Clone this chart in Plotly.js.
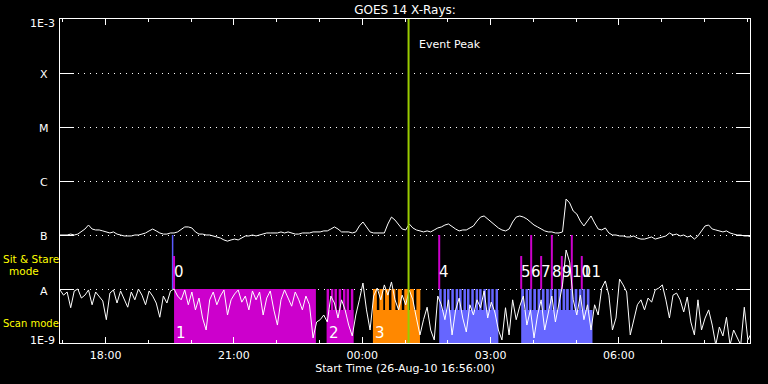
<!DOCTYPE html>
<html><head><meta charset="utf-8">
<script src="https://cdn.plot.ly/plotly-3.0.1.min.js"></script>
<style>html,body{margin:0;padding:0;background:#000;}#chart{width:768px;height:384px;}</style>
</head><body><div id="chart"></div>
<script>
// ---- time frame ----
const startTime = "2010-08-26 16:56";
const endTime = "2010-08-27 09:04";
const cadenceMin = 5;

// ---- GOES 14 long channel (1-8 A), W/m^2, every 5 min from start ----
const longFlux = [
1.00e-7,1.00e-7,1.00e-7,1.04e-7,1.00e-7,1.04e-7,1.14e-7,1.29e-7,1.53e-7,1.29e-7,
1.24e-7,1.24e-7,1.19e-7,1.14e-7,1.09e-7,1.14e-7,1.04e-7,1.00e-7,9.6e-8,9.6e-8,
9.6e-8,1.00e-7,1.00e-7,1.04e-7,1.09e-7,1.19e-7,1.29e-7,1.19e-7,1.09e-7,1.04e-7,
1.04e-7,1.09e-7,1.09e-7,1.14e-7,1.29e-7,1.41e-7,1.41e-7,1.35e-7,1.14e-7,1.04e-7,
1.04e-7,1.00e-7,1.00e-7,9.6e-8,9.2e-8,8.8e-8,8.1e-8,7.7e-8,8.1e-8,8.4e-8,
8.1e-8,8.8e-8,9.6e-8,9.6e-8,1.00e-7,9.6e-8,1.00e-7,1.04e-7,1.09e-7,1.09e-7,
1.09e-7,1.09e-7,1.14e-7,1.09e-7,1.14e-7,1.09e-7,1.04e-7,1.04e-7,1.09e-7,1.09e-7,
1.09e-7,1.14e-7,1.14e-7,1.14e-7,1.19e-7,1.19e-7,1.29e-7,1.41e-7,1.29e-7,1.14e-7,
1.14e-7,1.14e-7,1.09e-7,1.14e-7,1.47e-7,1.74e-7,1.41e-7,1.14e-7,1.09e-7,1.09e-7,
1.09e-7,1.09e-7,1.60e-7,2.15e-7,1.89e-7,1.53e-7,1.29e-7,1.24e-7,1.60e-7,1.35e-7,
1.24e-7,1.19e-7,1.14e-7,1.19e-7,1.14e-7,1.24e-7,1.35e-7,1.41e-7,1.53e-7,1.60e-7,
1.41e-7,1.29e-7,1.19e-7,1.24e-7,1.24e-7,1.35e-7,1.47e-7,1.81e-7,2.15e-7,2.25e-7,
1.98e-7,1.74e-7,1.53e-7,1.35e-7,1.24e-7,1.19e-7,1.29e-7,1.74e-7,2.15e-7,2.25e-7,
2.15e-7,1.98e-7,1.74e-7,1.53e-7,1.41e-7,1.29e-7,1.19e-7,1.14e-7,1.14e-7,1.09e-7,
1.09e-7,1.14e-7,4.64e-7,3.92e-7,2.78e-7,2.45e-7,1.81e-7,1.47e-7,1.81e-7,2.25e-7,
1.67e-7,1.29e-7,1.24e-7,1.35e-7,1.09e-7,1.00e-7,1.00e-7,9.6e-8,9.6e-8,9.2e-8,
9.2e-8,9.6e-8,8.8e-8,8.4e-8,8.4e-8,8.8e-8,9.2e-8,8.4e-8,8.8e-8,9.2e-8,
9.6e-8,1.09e-7,1.00e-7,1.04e-7,9.6e-8,1.00e-7,9.2e-8,9.6e-8,8.4e-8,9.6e-8,
1.19e-7,1.47e-7,1.53e-7,1.29e-7,1.24e-7,1.19e-7,1.14e-7,1.19e-7,1.09e-7,1.04e-7,
1.00e-7,1.00e-7,9.6e-8,9.6e-8,9.2e-8];

// ---- GOES 14 short channel (0.5-4 A), W/m^2, every 5 min from start ----
const shortFlux = [
9.6e-9,7.7e-9,8.8e-9,4.5e-9,9.2e-9,1.0e-8,6.8e-9,7.7e-9,9.6e-9,5.1e-9,
8.8e-9,7.4e-9,6.0e-9,2.7e-9,8.4e-9,9.6e-9,5.5e-9,9.2e-9,6.3e-9,4.6e-9,
8.8e-9,6.3e-9,1.0e-8,7.7e-9,5.1e-9,9.2e-9,7.4e-9,5.5e-9,3.0e-9,7.4e-9,
5.5e-9,9.2e-9,1.0e-8,7.4e-9,6.3e-9,9.6e-9,5.1e-9,8.8e-9,4.1e-9,6.8e-9,
2.9e-9,1.74e-9,6.3e-9,8.8e-9,5.1e-9,7.4e-9,9.6e-9,3.3e-9,6.3e-9,8.1e-9,
9.6e-9,5.7e-9,7.4e-9,4.1e-9,9.2e-9,6.3e-9,8.8e-9,3.3e-9,6.8e-9,9.2e-9,
4.1e-9,2.15e-9,6.3e-9,9.6e-9,6.8e-9,4.8e-9,8.8e-9,6.3e-9,4.1e-9,7.4e-9,
5.1e-9,1.24e-9,2.45e-9,2.7e-9,3.3e-9,2.45e-9,7.4e-9,5.5e-9,2.9e-9,6.3e-9,
4.1e-9,2.15e-9,1.35e-9,3.3e-9,6.3e-9,1.29e-8,4.1e-9,1.74e-9,7.4e-9,1.04e-8,
6.3e-9,1.19e-8,7.7e-9,1.35e-8,6.3e-9,4.1e-9,7.7e-9,5.1e-9,9.6e-9,6.3e-9,
2.9e-9,1.41e-9,2.7e-9,4.6e-9,1.74e-9,1.14e-9,7.4e-9,5.1e-9,2.7e-9,6.3e-9,
1.41e-9,4.1e-9,6.8e-9,2.9e-9,1.6e-9,5.1e-9,3.3e-9,6.3e-9,4.5e-9,9.2e-9,
2.9e-9,5.7e-9,3.75e-9,1.74e-9,1.14e-9,4.5e-9,1.41e-9,6.3e-9,2.7e-9,4.8e-9,
7.4e-9,2.15e-9,4.1e-9,1.24e-9,3.3e-9,6.3e-9,1.74e-9,3.75e-9,7.4e-9,2.45e-9,
5.1e-9,1.19e-8,5.27e-8,3.16e-8,6.3e-9,3.3e-9,7.7e-9,2.7e-9,5.1e-9,1.74e-9,
5.1e-9,3.3e-9,1.04e-8,1.41e-8,7.7e-9,1.74e-9,2.9e-9,1.53e-8,1.19e-8,8.8e-9,
1.41e-9,2.7e-9,5.1e-9,6.3e-9,4.1e-9,6.8e-9,5.7e-9,9.6e-9,1.04e-8,1.19e-8,
6.3e-9,2.9e-9,7.7e-9,8.4e-9,6.3e-9,3.75e-9,7.1e-9,2.45e-9,1.41e-9,6.3e-9,
1.74e-9,2.9e-9,4.1e-9,2.15e-9,9.2e-10,1.98e-9,1.35e-9,3.0e-9,9.2e-10,1.74e-9,
1.29e-9,9.2e-10,4.6e-9,1.14e-9,1.53e-9];

// ---- flux levels used by the observation marks ----
const levelFloor = 1e-9, levelA = 1e-8, levelB = 1e-7;
const scanMid = 4.08e-9, sitShort = 4.08e-8;

// ---- event ----
const eventPeak = "01:05";
const eventLabel = "Event Peak";

// ---- sit & stare rasters ----
const sitTimes  = ["19:36","01:48","03:43","03:57","04:11","04:26","04:40","04:54","05:08"];
const sitLabels = ["0","4","5","6","7","8","9","10","11"];
const sitTops   = [sitShort, levelB, sitShort, levelB, sitShort, levelB, sitShort, levelB, sitShort];
const sitBlueTimes = ["19:34"];

// ---- scan rasters ----
const scanLabels = ["1","2","3","",""];
const scanStart  = ["19:36","23:10","00:15","01:48","03:43"];
const scanEnd    = ["22:55","23:48","01:21","03:11","05:23"];
const scanColors = ["#cc00cc","#cc00cc","#ff8800","#6666ff","#6666ff"];
const scanStepLen = [0, 3.5, 5.5, 3.5, 3.8]; // minutes
const scanSteps = [
  [],
  ["23:10","23:16","23:21","23:27","23:33","23:38","23:44"],
  ["00:15","00:24","00:32","00:41","00:50","00:59","01:07","01:16"],
  ["01:48","01:54","01:59","02:05","02:11","02:16","02:22","02:27","02:33","02:39","02:44","02:50","02:56","03:01","03:07"],
  ["03:43","03:49","03:54","04:00","04:06","04:12","04:18","04:23","04:29","04:35","04:41","04:46","04:52","04:58","05:04","05:09","05:15"]
];

// ---- axis ticks ----
const xTickClock = ["18:00","21:00","00:00","03:00","06:00"];
const yTickVals = [1e-9,1e-8,1e-7,1e-6,1e-5,1e-4,1e-3];
const yTickText = ["1E-9","A","B","C","M","X","1E-3"];

// ---- helpers ----
const DAY0 = Date.UTC(2010,7,26);
function clockMs(hm){ // HH:MM on the 26th (afternoon) or 27th (morning)
  const [h,m] = hm.split(":").map(Number);
  return DAY0 + (h < 12 ? 86400000 : 0) + h*3600000 + m*60000;
}
function msStr(ms){ return new Date(ms).toISOString().replace("T"," ").replace("Z",""); }
const startMs = Date.UTC(2010,7,26,16,56);
const curveTimes = longFlux.map((_,i)=>msStr(startMs + i*cadenceMin*60000));

const traces = [];
// scan fills
scanStart.forEach((s,i)=>{
  const xs=[], ys=[];
  const s0=clockMs(s), e0=clockMs(scanEnd[i]);
  const bandTop = scanSteps[i].length ? scanMid : levelA;
  xs.push(msStr(s0),msStr(s0),msStr(e0),msStr(e0),null);
  ys.push(levelFloor,bandTop,bandTop,levelFloor,null);
  scanSteps[i].forEach(t=>{
    const a=clockMs(t), b=a+scanStepLen[i]*60000;
    xs.push(msStr(a),msStr(a),msStr(b),msStr(b),null);
    ys.push(scanMid,levelA,levelA,scanMid,null);
  });
  traces.push({x:xs,y:ys,mode:"lines",fill:"toself",fillcolor:scanColors[i],line:{width:0,color:scanColors[i]},hoverinfo:"skip"});
});
// sit & stare lines
(function(){
  const xs=[],ys=[];
  sitBlueTimes.forEach(t=>{xs.push(msStr(clockMs(t)),msStr(clockMs(t)),null);ys.push(levelA,levelB,null);});
  traces.push({x:xs,y:ys,mode:"lines",line:{color:"#5a5aff",width:1.5},hoverinfo:"skip"});
  const xm=[],ym=[];
  sitTimes.forEach((t,i)=>{xm.push(msStr(clockMs(t)),msStr(clockMs(t)),null);ym.push(levelA,sitTops[i],null);});
  traces.push({x:xm,y:ym,mode:"lines",line:{color:"#cc00cc",width:2},hoverinfo:"skip"});
})();
// GOES curves
traces.push({x:curveTimes,y:longFlux,mode:"lines",line:{color:"#ffffff",width:1},hoverinfo:"skip"});
traces.push({x:curveTimes,y:shortFlux,mode:"lines",line:{color:"#ffffff",width:1},hoverinfo:"skip"});
// event line
traces.push({x:[msStr(clockMs(eventPeak)),msStr(clockMs(eventPeak))],y:[levelFloor,1e-3],mode:"lines",line:{color:"#99cc00",width:2},hoverinfo:"skip"});

const font = "DejaVu Sans, sans-serif";
const W=690,H=324,L=60,T=19;
const px = x => (x-L)/W, py = y => (T+H-y)/H;

const ann = [];
// y labels
yTickText.forEach((txt,i)=>{
  const isNum = txt.length>1;
  const yp = [340,291,236,182,128,74,23][i];
  ann.push({xref:"paper",yref:"paper",x:isNum?px(57):px(44),y:py(yp),xanchor:isNum?"right":"center",yanchor:"middle",text:txt,showarrow:false,font:{family:font,size:11,color:"#fff"}});
});
ann.push({xref:"paper",yref:"paper",x:px(1),y:py(258.5),xanchor:"left",yanchor:"middle",text:"Sit & Stare",showarrow:false,font:{family:font,size:10.5,color:"#ffff00"}});
ann.push({xref:"paper",yref:"paper",x:px(24),y:py(270.5),xanchor:"center",yanchor:"middle",text:"mode",showarrow:false,font:{family:font,size:10.5,color:"#ffff00"}});
ann.push({xref:"paper",yref:"paper",x:px(1),y:py(323),xanchor:"left",yanchor:"middle",text:"Scan mode",showarrow:false,font:{family:font,size:10,color:"#ffff00"}});
// event label
ann.push({xref:"x",yref:"paper",x:msStr(clockMs(eventPeak)),xshift:8,y:py(44),xanchor:"left",yanchor:"middle",text:eventLabel,showarrow:false,font:{family:font,size:11,color:"#fff"}});
// sit & stare labels
sitTimes.forEach((t,i)=>{
  ann.push({xref:"x",yref:"paper",x:msStr(clockMs(t)),xshift:-2,y:py(272),xanchor:"left",yanchor:"middle",text:sitLabels[i],showarrow:false,font:{family:font,size:15,color:"#fff"}});
});
scanStart.forEach((s,i)=>{
  if(!scanLabels[i]) return;
  ann.push({xref:"x",yref:"paper",x:msStr(clockMs(s)),xshift:0,y:py(332.5),xanchor:"left",yanchor:"middle",text:scanLabels[i],showarrow:false,font:{family:font,size:15,color:"#fff"}});
});

const layout = {
  width:768,height:384,
  paper_bgcolor:"#000",plot_bgcolor:"#000",
  margin:{l:L,r:768-L-W,t:T,b:384-T-H},
  showlegend:false,
  title:{text:"GOES 14 X-Rays:",x:0.5,xref:"paper",xanchor:"center",y:1-10/384,yref:"container",yanchor:"middle",font:{family:font,size:12,color:"#fff"}},
  xaxis:{type:"date",range:[msStr(startMs),endTime],showgrid:false,zeroline:false,showline:true,linecolor:"#fff",linewidth:1,mirror:"ticks",
    ticks:"inside",ticklen:6,tickcolor:"#fff",tickwidth:1,
    tickmode:"array",tickvals:xTickClock.map(c=>msStr(clockMs(c))),ticktext:xTickClock,ticklabelstandoff:2,
    tickfont:{family:font,size:11,color:"#fff"},
    minor:{dtick:3600000,tick0:"2010-08-26 17:00",ticks:"inside",ticklen:3,tickcolor:"#fff",showgrid:false},
    title:{text:"Start Time (26-Aug-10 16:56:00)",font:{family:font,size:11,color:"#fff"},standoff:3}},
  yaxis:{type:"log",range:[-9,-3],tickvals:yTickVals,showticklabels:false,ticks:"inside",ticklen:14,tickcolor:"#fff",mirror:"ticks",
    showline:true,linecolor:"#fff",linewidth:1,showgrid:true,gridcolor:"#fff",gridwidth:1,griddash:"1px,5px",zeroline:false},
  annotations:ann
};
Plotly.newPlot("chart",traces,layout,{staticPlot:true,displayModeBar:false});
</script></body></html>
